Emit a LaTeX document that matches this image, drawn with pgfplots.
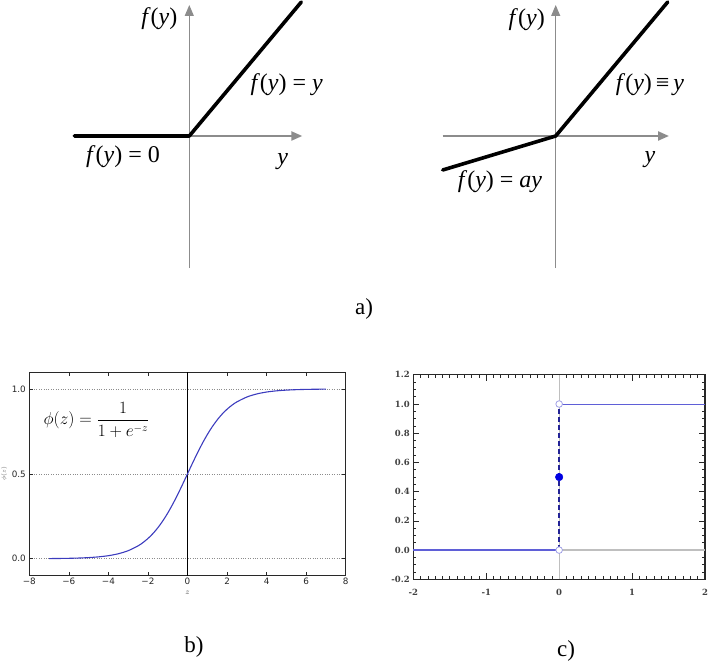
\documentclass[border=0pt]{standalone}
\usepackage{pgfplots}
\pgfplotsset{compat=1.18}
\usepackage{fontspec}
\setmainfont{Liberation Serif}
\setsansfont{DejaVu Sans}
\newfontfamily\tickserif{DejaVu Serif}
\usetikzlibrary{arrows.meta}
\definecolor{axgray}{RGB}{140,140,140}
\definecolor{sigblue}{RGB}{60,60,190}
\definecolor{stepblue}{RGB}{95,95,215}
\definecolor{dashblue}{RGB}{35,35,150}
\definecolor{dotblue}{RGB}{0,0,225}
\definecolor{ringblue}{RGB}{160,160,230}
\definecolor{frame}{RGB}{40,40,40}
\newcommand{\bigit}{\fontsize{24}{26}\selectfont}
\begin{document}
\begin{tikzpicture}
\useasboundingbox (0,0) rectangle (708pt,662pt);
% ---------- a) left: ReLU ----------
\begin{axis}[
  at={(74.3pt,394pt)}, anchor=south west,
  scale only axis, width=228pt, height=263pt,
  xmin=-115, xmax=113, ymin=-132, ymax=131,
  axis lines=middle, xtick=\empty, ytick=\empty,
  x axis line style={draw=axgray, line width=2.2pt, -{Triangle[length=11pt,width=9pt]}},
  y axis line style={draw=axgray, line width=1.1pt, -{Triangle[length=11pt,width=9pt]}},
  clip=false,
]
\addplot[black, line width=3.6pt, line join=round, line cap=round] coordinates {(-115,0) (0,0) (112,134)};
\node[font=\bigit] at (axis cs:-30,117.7) {\textit{f}(\textit{y})};
\node[font=\bigit] at (axis cs:97.4,51) {\textit{f}(\textit{y}) = \textit{y}};
\node[font=\bigit] at (axis cs:-66.3,-20.7) {\textit{f}(\textit{y}) = 0};
\node[font=\bigit] at (axis cs:93.4,-25.7) {\textit{y}};
\end{axis}
% ---------- a) right: leaky ReLU ----------
\begin{axis}[
  at={(442.7pt,394pt)}, anchor=south west,
  scale only axis, width=226.3pt, height=263pt,
  xmin=-113, xmax=113.3, ymin=-132, ymax=131,
  axis lines=middle, xtick=\empty, ytick=\empty,
  x axis line style={draw=axgray, line width=2.2pt, -{Triangle[length=11pt,width=9pt]}},
  y axis line style={draw=axgray, line width=1.1pt, -{Triangle[length=11pt,width=9pt]}},
  clip=false,
]
\addplot[black, line width=3.6pt, line join=round, line cap=round] coordinates {(-113,-34) (0,0) (112,134)};
\node[font=\bigit] at (axis cs:-29,116.7) {\textit{f}(\textit{y})};
\node[font=\bigit] at (axis cs:94.3,51) {\textit{f}(\textit{y})\,≡\,\textit{y}};
\node[font=\bigit] at (axis cs:-55.7,-45.7) {\textit{f}(\textit{y}) = \textit{ay}};
\node[font=\bigit] at (axis cs:94.3,-24) {\textit{y}};
\end{axis}
% ---------- b) sigmoid ----------
\begin{axis}[
  at={(29.3pt,86.3pt)}, anchor=south west,
  scale only axis, width=316.4pt, height=203.7pt,
  xmin=-8, xmax=8, ymin=-0.1, ymax=1.1,
  xtick={-8,-6,...,8},
  xticklabels={−8,−6,−4,−2,0,2,4,6,8},
  ytick={0,0.5,1}, yticklabels={0.0,0.5,1.0},
  tick align=inside, xtick pos=both, ytick pos=both,
  major tick length=4pt,
  tick style={frame, line width=0.6pt},
  axis line style={frame, line width=0.9pt},
  ticklabel style={font=\sffamily\fontsize{8.8}{10}\selectfont, text=black!85},
  xticklabel style={yshift=1pt},
  /pgf/number format/assume math mode=true,
  ymajorgrids, grid style={black!45, dotted, line width=0.6pt},
  clip=false,
]
\addplot[black, line width=0.9pt] coordinates {(0,-0.1) (0,1.1)};
\addplot[sigblue, line width=1.1pt, smooth] coordinates {
(-7,0.000911) (-6.5,0.001501) (-6,0.002473) (-5.5,0.004070) (-5,0.006693)
(-4.5,0.010987) (-4,0.017986) (-3.5,0.029312) (-3,0.047426) (-2.5,0.075858)
(-2.25,0.095349) (-2,0.119203) (-1.75,0.148047) (-1.5,0.182426) (-1.25,0.222700)
(-1,0.268941) (-0.75,0.320821) (-0.5,0.377541) (-0.25,0.437823) (0,0.5)
(0.25,0.562177) (0.5,0.622459) (0.75,0.679179) (1,0.731059) (1.25,0.777300)
(1.5,0.817574) (1.75,0.851953) (2,0.880797) (2.25,0.904651) (2.5,0.924142)
(3,0.952574) (3.5,0.970688) (4,0.982014) (4.5,0.989013) (5,0.993307)
(5.5,0.995930) (6,0.997527) (6.5,0.998499) (7,0.999089)};
\node[anchor=west, font=\fontsize{16}{18}\selectfont] at (axis cs:-7.45,0.817) {$\phi(z) = \displaystyle\frac{1}{1+e^{-z}}$};
\node[font=\fontsize{8}{9}\selectfont, text=black!70] at (axis cs:0,-0.2) {$z$};
\node[font=\fontsize{6}{7}\selectfont, text=black!60, rotate=90] at (axis cs:-9.27,0.5) {$\phi(z)$};
\end{axis}
% ---------- c) step ----------
\begin{axis}[
  at={(413.3pt,82.7pt)}, anchor=south west,
  scale only axis, width=291.7pt, height=204.5pt,
  xmin=-2, xmax=2, ymin=-0.2, ymax=1.2,
  xtick={-2,-1,0,1,2}, xticklabels={-2,-1,0,1,2},
  ytick={-0.2,0,0.2,0.4,0.6,0.8,1.0,1.2},
  yticklabels={-0.2,0.0,0.2,0.4,0.6,0.8,1.0,1.2},
  minor x tick num=9, minor y tick num=3,
  tick align=inside, xtick pos=both, ytick pos=both,
  major tick length=6pt, minor tick length=3pt,
  tick style={frame, line width=0.7pt},
  axis line style={frame, line width=1.3pt},
  ticklabel style={font=\tickserif\bfseries\fontsize{8.5}{9}\selectfont, text=black!75},
  xticklabel style={yshift=-6pt},
  /pgf/number format/assume math mode=true,
  clip=false,
]
\addplot[black!25, line width=1pt] coordinates {(0,-0.2) (0,1.2)};
\addplot[black!25, line width=1.4pt] coordinates {(0,0) (2,0)};
\addplot[stepblue, line width=1.5pt] coordinates {(-2,0) (0,0)};
\addplot[stepblue, line width=1pt] coordinates {(0,1) (2,1)};
\addplot[dashblue, line width=1.4pt, dash pattern=on 5pt off 3pt] coordinates {(0,0) (0,1)};
\addplot[only marks, mark=*, mark size=3.3pt, mark options={fill=white, draw=ringblue, line width=0.8pt}] coordinates {(0,0) (0,1)};
\addplot[only marks, mark=*, mark size=3.8pt, mark options={fill=dotblue, draw=dotblue}] coordinates {(0,0.5)};
\end{axis}
% ---------- captions ----------
\node[font=\fontsize{23}{25}\selectfont] at (364pt,353pt) {a)};
\node[font=\fontsize{23}{25}\selectfont] at (194pt,15pt) {b)};
\node[font=\fontsize{23}{25}\selectfont] at (566pt,11pt) {c)};
\end{tikzpicture}
\end{document}
